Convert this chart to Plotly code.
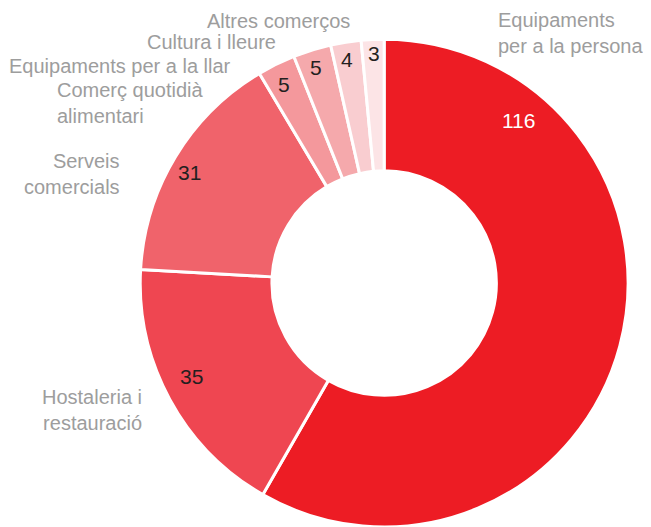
import plotly.graph_objects as go

W, H = 651, 527
OFF = 8  # default body margin of the written page
FW, FH = W - OFF, H - OFF

# Data, clockwise from 12 o'clock
categories = [
    "Equipaments<br>per a la persona",
    "Hostaleria i<br>restauració",
    "Serveis<br>comercials",
    "Comerç quotidià<br>alimentari",
    "Equipaments per a la llar",
    "Cultura i lleure",
    "Altres comerços",
]
values = [116, 35, 31, 5, 5, 4, 3]
colors = ["#ED1C24", "#EF4651", "#F0636B", "#F4989C", "#F5A9AC", "#F9CDD0", "#FCE4E6"]

# where the labels sit on the page (pixels from top-left): (x, y, anchor)
cat_pos = [
    (496, 33, "left"),
    (144, 410, "right"),
    (122, 174, "right"),
    (55, 103, "left"),
    (233, 66, "right"),
    (278, 42, "right"),
    (352, 21, "right"),
]
val_pos = [(518, 121), (191, 376), (189, 172), (284, 84), (316, 67), (347, 59), (374, 53)]


def px(x, y):
    return (x - OFF) / FW, 1 - (y - OFF) / FH


fig = go.Figure(
    go.Pie(
        labels=categories,
        values=values,
        hole=0.46,
        sort=False,
        direction="clockwise",
        rotation=0,
        marker=dict(colors=colors, line=dict(color="white", width=3)),
        textinfo="none",
        hoverinfo="label+value",
        domain=dict(x=[0.19, 0.98], y=[0, 0.94]),
        showlegend=False,
    )
)

annotations = []
for cat, (x, y, anchor) in zip(categories, cat_pos):
    ax, ay = px(x, y)
    annotations.append(dict(
        text=cat, x=ax, y=ay, xref="paper", yref="paper",
        xanchor=anchor, yanchor="middle", align=anchor, showarrow=False,
        font=dict(size=20, color="#9d9d9d"),
    ))
for i, (v, (x, y)) in enumerate(zip(values, val_pos)):
    ax, ay = px(x, y)
    annotations.append(dict(
        text=str(v), x=ax, y=ay, xref="paper", yref="paper",
        xanchor="center", yanchor="middle", showarrow=False,
        font=dict(size=21, color="white" if i == 0 else "#231F20"),
    ))

fig.update_layout(
    width=FW,
    height=FH,
    margin=dict(l=0, r=0, t=0, b=0),
    paper_bgcolor="white",
    plot_bgcolor="white",
    font=dict(family="Liberation Sans, Arial, sans-serif"),
    annotations=annotations,
)

fig.write_html("out.html")
